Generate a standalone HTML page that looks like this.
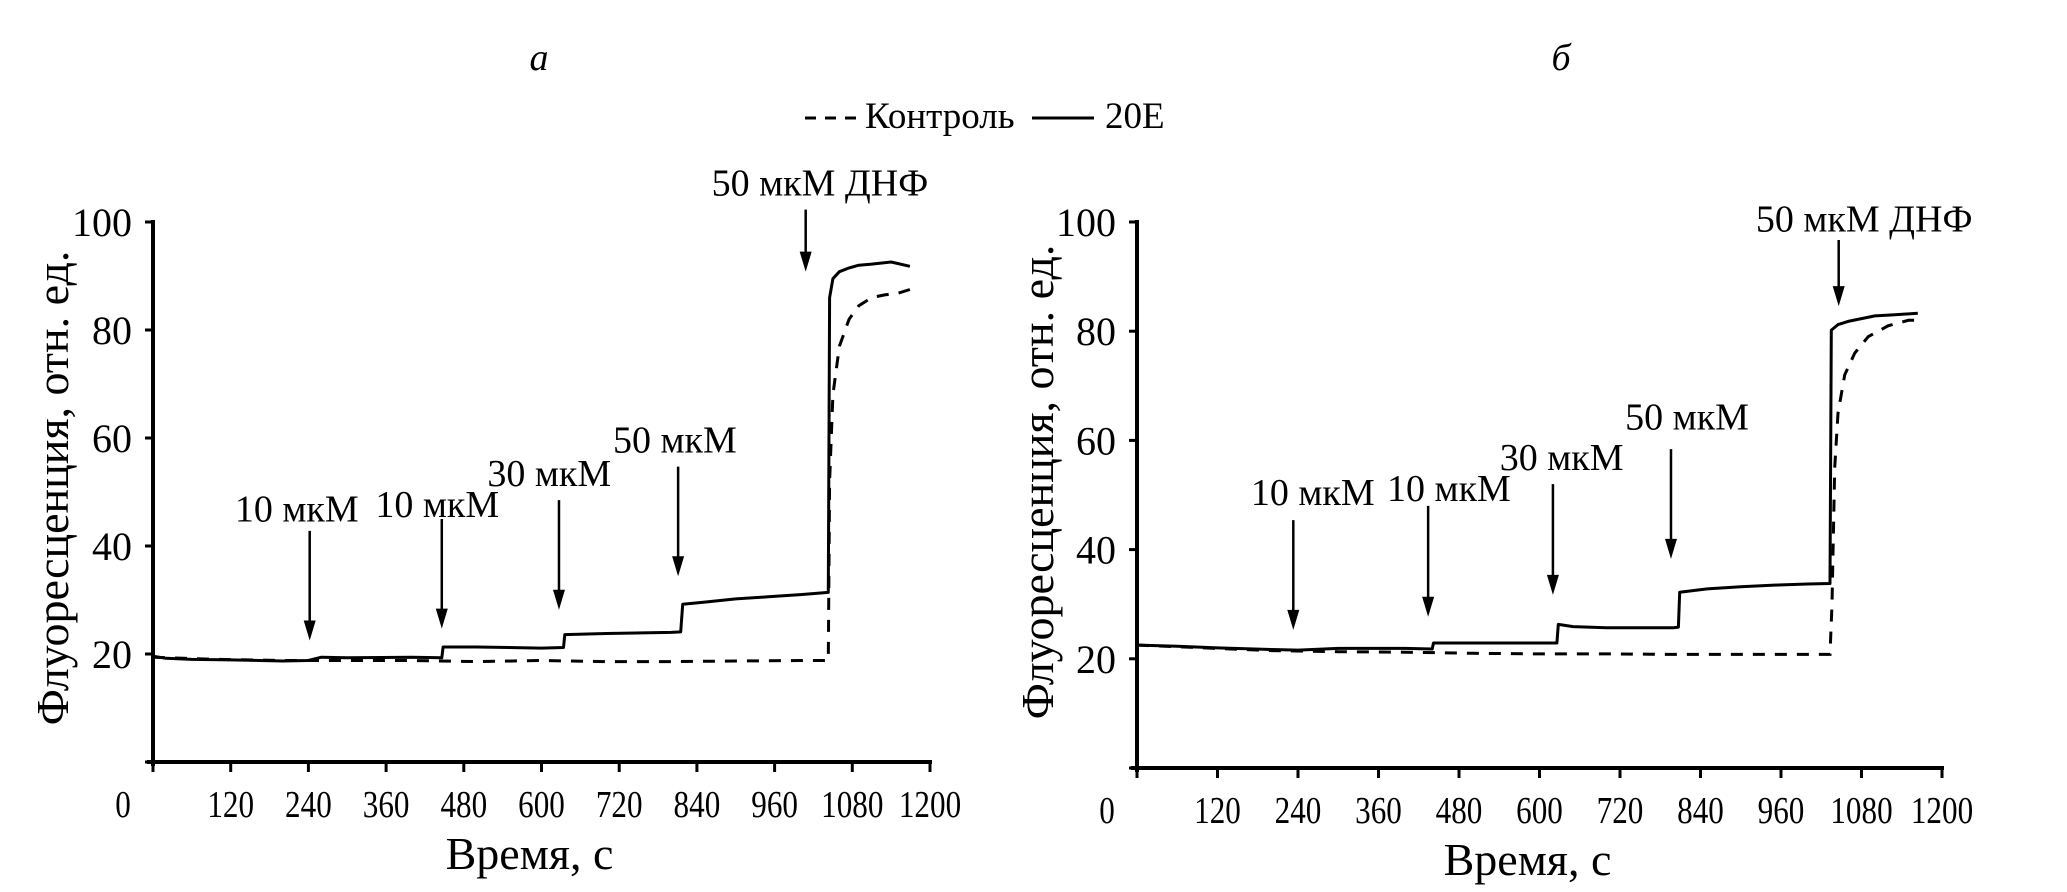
<!DOCTYPE html>
<html><head><meta charset="utf-8"><style>
html,body{margin:0;padding:0;background:#fff;}
svg{display:block;font-family:"Liberation Serif",serif;}
</style></head><body>
<svg id="chart" width="2067" height="892" viewBox="0 0 2067 892" xmlns="http://www.w3.org/2000/svg">
<text x="539" y="70" font-size="38" font-style="italic" text-anchor="middle">а</text>
<text x="1561" y="70" font-size="38" font-style="italic" text-anchor="middle">б</text>
<g>
<line x1="805" y1="118" x2="863" y2="118" stroke="#000" stroke-width="3" stroke-dasharray="11,9"/>
<text x="865" y="128" font-size="37">Контроль</text>
<line x1="1032" y1="118" x2="1094" y2="118" stroke="#000" stroke-width="3"/>
<text x="1105" y="128" font-size="37">20E</text>
</g>
</svg>
<script>
const xTicks = [0,120,240,360,480,600,720,840,960,1080,1200];
const yTicks = [0,20,40,60,80,100];
// Panel a data
const aSolidT = [0,20,60,120,200,240,260,300,400,446,448,500,600,634,636,700,800,815,818,850,900,950,1000,1043,1045,1050,1060,1075,1090,1110,1140,1169];
const aSolidV = [19.6,19.2,19,18.9,18.7,18.8,19.4,19.3,19.4,19.3,21.3,21.3,21.1,21.2,23.6,23.8,24,24.1,29.2,29.6,30.2,30.6,31,31.4,86,89.5,90.8,91.5,92,92.2,92.6,91.8];
const aDashT = [0,100,200,300,400,500,600,700,800,900,1000,1043,1045,1050,1060,1075,1090,1110,1130,1150,1169];
const aDashV = [19.4,19,18.8,18.8,18.8,18.6,18.8,18.6,18.6,18.7,18.8,18.8,52,68,77,82,84.5,86,86.5,86.8,87.5];
const aArrowT = [242,446,627,811,1008];
const aArrowTop = [42.8,45,48.5,54.7,102.3];
const aArrowTip = [22.5,24.7,28.2,34.4,90.8];
const aLabelT = [222,439,612,806,1030];
const aLabelV = [44.5,45.4,51.1,57.3,104.9];
const arrowLabels = ["10 мкМ","10 мкМ","30 мкМ","50 мкМ","50 мкМ ДНФ"];
// Panel b data
const bSolidT = [0,60,120,200,240,300,400,440,442,500,600,626,628,650,700,800,807,809,850,900,950,1000,1033,1035,1045,1060,1080,1100,1130,1164];
const bSolidV = [22.5,22.3,22,21.7,21.6,21.9,21.9,21.8,22.9,22.9,22.9,22.9,26.3,25.9,25.7,25.7,25.8,32.2,32.8,33.2,33.5,33.7,33.8,80.2,81.2,81.8,82.3,82.8,83,83.3];
const bDashT = [0,100,200,300,400,500,600,700,800,900,1000,1033,1036,1040,1045,1055,1070,1090,1120,1150,1164];
const bDashV = [22.5,22,21.5,21.3,21.2,21,20.9,20.9,20.8,20.8,20.8,20.8,30,55,65,72,76,79,81,82,82];
const bArrowT = [233,434,620,796,1046];
const bArrowTop = [45.4,48,52,58.4,96.7];
const bArrowTip = [25.3,27.7,31.7,38.3,84.6];
const bLabelT = [262,465,633,820,1084];
const bLabelV = [48.2,48.9,54.6,62,98.3];

const NS = "http://www.w3.org/2000/svg";
const svg = document.getElementById('chart');
function mk(tag, attrs, parent){const e=document.createElementNS(NS,tag);for(const k in attrs)e.setAttribute(k,attrs[k]);(parent||svg).appendChild(e);return e;}

function panel(p){
  const g = mk('g',{});
  
  
  const X = t => p.x0 + (t/1200)*(p.x1-p.x0);
  const Y = v => p.y0 - (v/100)*(p.y0-p.y100);
  const ya = mk('line',{x1:X(0),y1:Y(0)+4,x2:X(0),y2:Y(100)-2,stroke:'#000','stroke-width':4},g);
  
  
  const xa = mk('line',{x1:X(0)-6,y1:Y(0),x2:X(1200)+2,y2:Y(0),stroke:'#000','stroke-width':4},g);
  
  
  yTicks.forEach(v=>{
    const tk = mk('line',{x1:X(0)-8,y1:Y(v),x2:X(0),y2:Y(v),stroke:'#000','stroke-width':3},g);
    
    
    if(v>0){
      const tl = mk('text',{x:X(0)-21,y:Y(v)+14,'font-size':40,'text-anchor':'end'},g);
      tl.textContent = v;
      
      
    }
  });
  xTicks.forEach(t=>{
    const tk = mk('line',{x1:X(t),y1:Y(0),x2:X(t),y2:Y(0)+10,stroke:'#000','stroke-width':3},g);
    
    
    const lx = t===0 ? X(0)-30 : X(t);
    const tl = mk('text',{transform:`translate(${lx},${p.y0+55}) scale(0.82,1)`,'font-size':38,'text-anchor':'middle'},g);
    tl.textContent = t;
    
    
  });
  const xt = mk('text',{x:(p.x0+p.x1)/2-12,y:p.y0+107,'font-size':46,'text-anchor':'middle'},g);
  xt.textContent = 'Время, с';
  
  
  const yt = mk('text',{transform:`translate(${p.ylx},${p.yly}) rotate(-90)`,'font-size':46,'text-anchor':'middle'},g);
  yt.textContent = 'Флуоресценция, отн. ед.';
  
  
  const pts = (T,V)=>T.map((t,i)=>X(t).toFixed(1)+','+Y(V[i]).toFixed(1)).join(' ');
  const ds = mk('polyline',{points:pts(p.dT,p.dV),fill:'none',stroke:'#000','stroke-width':3,'stroke-dasharray':'12,10'},g);
  
  
  const ss = mk('polyline',{points:pts(p.sT,p.sV),fill:'none',stroke:'#000','stroke-width':3,'stroke-linejoin':'round'},g);
  
  
  p.aT.forEach((t,i)=>{
    const x=X(t), yt0=Y(p.aTop[i]), ytip=Y(p.aTip[i]);
    const ln = mk('line',{x1:x,y1:yt0,x2:x,y2:ytip-14,stroke:'#000','stroke-width':2.5},g);
    
    
    const hd = mk('polygon',{points:`${x-6},${ytip-20} ${x+6},${ytip-20} ${x},${ytip}`,fill:'#000'},g);
    
    
    const lb = mk('text',{x:X(p.lT[i]),y:Y(p.lV[i]),'font-size':38,'text-anchor':'middle'},g);
    lb.textContent = arrowLabels[i];
    
    
  });
}
panel({name:'panel-a-chart',x0:153,x1:930,y0:762,y100:222,ylx:68,yly:488,
  sT:aSolidT,sV:aSolidV,dT:aDashT,dV:aDashV,aT:aArrowT,aTop:aArrowTop,aTip:aArrowTip,lT:aLabelT,lV:aLabelV});
panel({name:'panel-b-chart',x0:1137,x1:1942,y0:768,y100:222,ylx:1053,yly:482,
  sT:bSolidT,sV:bSolidV,dT:bDashT,dV:bDashV,aT:bArrowT,aTop:bArrowTop,aTip:bArrowTip,lT:bLabelT,lV:bLabelV});
</script>
</body></html>
